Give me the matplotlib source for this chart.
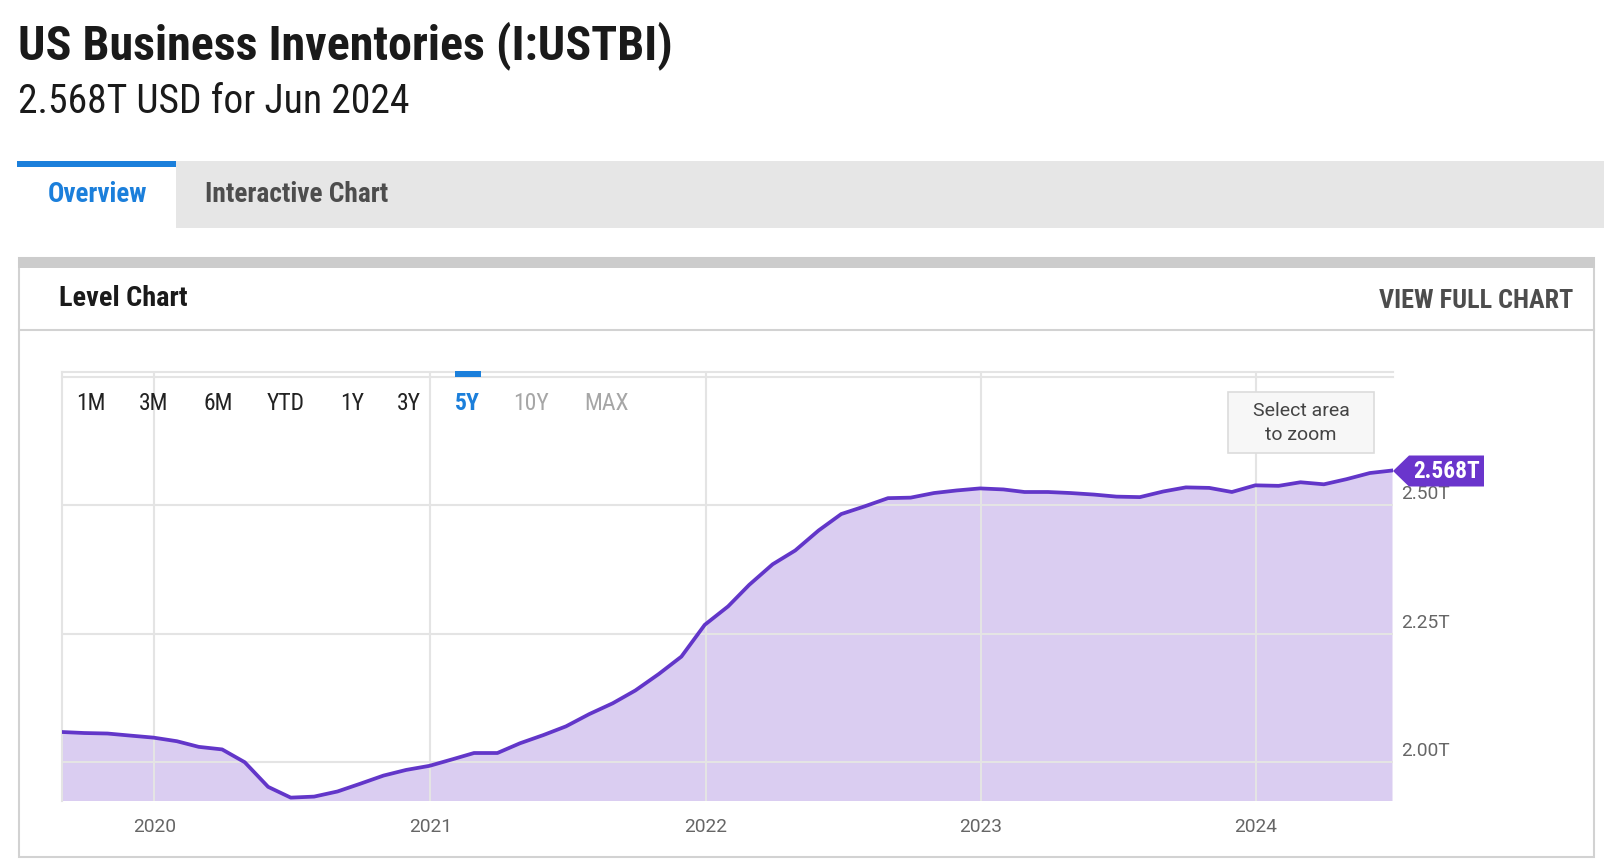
import numpy as np
import pandas as pd
import matplotlib
matplotlib.use('Agg')
import matplotlib.pyplot as plt
import matplotlib.dates as mdates
import matplotlib.transforms as mtrans
from matplotlib.patches import Rectangle, Polygon

# %%
# monthly US business inventories, trillions USD (Aug 2019 .. Jun 2024)
months = pd.date_range('2019-08-31', periods=59, freq='ME')
inventories = [
    2.058, 2.056, 2.055, 2.051, 2.047,                  # 2019
    2.040, 2.029, 2.024, 1.999, 1.951, 1.930,           # 2020
    1.932, 1.942, 1.957, 1.973, 1.984, 1.992,
    2.005, 2.017, 2.017, 2.036, 2.052, 2.069,           # 2021
    2.093, 2.114, 2.139, 2.171, 2.205, 2.267,
    2.303, 2.345, 2.385, 2.412, 2.451, 2.483,           # 2022
    2.498, 2.514, 2.515, 2.524, 2.529, 2.533,
    2.531, 2.526, 2.526, 2.524, 2.521, 2.517,           # 2023
    2.516, 2.527, 2.535, 2.534, 2.526, 2.539,
    2.538, 2.545, 2.541, 2.551, 2.563, 2.568,           # 2024
]
y_ticks = [2.00, 2.25, 2.50]
year_ticks = ['2020-01-01', '2021-01-01', '2022-01-01', '2023-01-01', '2024-01-01']
ranges = ['1M', '3M', '6M', 'YTD', '1Y', '3Y', '5Y', '10Y', 'MAX']
range_x = [91, 154, 218, 286, 352, 409, 467, 531, 607]

W, H = 1604, 868
COND = ['Roboto Condensed', 'Liberation Sans Narrow', 'Roboto', 'DejaVu Sans']
REG = ['Roboto', 'DejaVu Sans']
plt.rcParams['font.family'] = COND

line_c = '#6236c9'
fill_c = '#dacdf1'
grid_c = '#e4e4e4'
blue = '#1b7fdb'

fig = plt.figure(figsize=(W / 100, H / 100), dpi=100)
fig.patch.set_facecolor('white')

# pixel coords, origin top-left
px = mtrans.Affine2D().scale(1 / W, -1 / H).translate(0, 1) + fig.transFigure

def rect(x0, y0, x1, y1, z=-5, **kw):
    fig.patches.append(Rectangle((x0, y0), x1 - x0, y1 - y0, transform=px, zorder=z, **kw))

# %% header
fig.text(18, 59, 'US Business Inventories (I:USTBI)', transform=px, fontsize=34.6,
         fontweight='bold', color='#1a1a1a', va='baseline')
fig.text(18, 113, '2.568T USD for Jun 2024', transform=px, fontsize=28.5,
         color='#1a1a1a', va='baseline')

# tabs
rect(17, 161, W, 228, facecolor='#e6e6e6', edgecolor='none')
rect(17, 161, 176, 228, facecolor='white', edgecolor='none')
rect(17, 161, 176, 167, facecolor=blue, edgecolor='none')
fig.text(97, 195, 'Overview', transform=px, fontsize=19.5, fontweight='bold',
         color=blue, ha='center', va='center')
fig.text(205, 195, 'Interactive Chart', transform=px, fontsize=19.7,
         fontweight='bold', color='#4d4d4d', va='center')

# card
rect(19, 258, 1594, 857, facecolor='white', edgecolor='#d2d2d2', linewidth=1.5, z=-6)
rect(18, 257, 1595, 268, facecolor='#cccccc', edgecolor='none')
fig.lines.append(plt.Line2D([19, 1594], [330, 330], transform=px, color='#d2d2d2', lw=1.5))
fig.text(59, 299, 'Level Chart', transform=px, fontsize=20.3, fontweight='bold',
         color='#1a1a1a', va='center')
fig.text(1573, 301, 'VIEW FULL CHART', transform=px, fontsize=18.8, fontweight='bold',
         color='#4d4d4d', va='center', ha='right')

# %% chart
left, right, top, bottom = 61.5, 1392.5, 372, 800.7
ax = fig.add_axes([left / W, 1 - bottom / H, (right - left) / W, (bottom - top) / H])
ax.fill_between(months, inventories, 0, color=fill_c, lw=0, zorder=1)
ax.plot(months, inventories, color=line_c, lw=2.7, solid_joinstyle='round', zorder=3)

ax.set_xlim(months[0], months[-1])
ax.set_ylim(1.924, 2.760)
ax.set_yticks(y_ticks)
ax.set_xticks(pd.to_datetime(year_ticks))
ax.xaxis.set_major_formatter(mdates.DateFormatter('%Y'))
ax.yaxis.set_major_formatter(lambda v, p: f'{v:.2f}T')
ax.yaxis.tick_right()
ax.grid(True, color=grid_c, lw=1.5, zorder=2)
ax.set_axisbelow(False)
ax.tick_params(length=0, labelsize=13.8, labelcolor='#666666')
ax.tick_params(axis='x', pad=12.5)
ax.tick_params(axis='y', pad=6)
for lab in ax.get_xticklabels() + ax.get_yticklabels():
    lab.set_family(REG)
for lab in ax.get_yticklabels():
    lab.set_transform(lab.get_transform() + mtrans.ScaledTranslation(0, 13 / 100, fig.dpi_scale_trans))
for s in ax.spines.values():
    s.set_color(grid_c)
    s.set_linewidth(1.5)
ax.spines['bottom'].set_visible(False)
ax.spines['right'].set_visible(False)
ax.set_facecolor('none')

# range selector
fig.lines.append(plt.Line2D([left, right], [377, 377], transform=px, color=grid_c, lw=1.5))
rect(455, 371, 481, 377, z=3, facecolor=blue, edgecolor='none')
for lbl, xx in zip(ranges, range_x):
    col, wt = '#222222', 'normal'
    if lbl == '5Y':
        col, wt = blue, 'bold'
    elif lbl in ('10Y', 'MAX'):
        col = '#a6a6a6'
    fig.text(xx, 403, lbl, transform=px, fontsize=17, color=col, fontweight=wt,
             ha='center', va='center')

# zoom hint
rect(1228, 392, 1374, 453, z=3, facecolor='#f7f7f7', edgecolor='#dcdcdc', linewidth=1.2)
fig.text(1301, 411, 'Select area', transform=px, fontsize=14, color='#444444',
         ha='center', va='center', family=REG)
fig.text(1301, 435, 'to zoom', transform=px, fontsize=14, color='#444444',
         ha='center', va='center', family=REG)

# last value flag
fy = 471
fig.patches.append(Polygon([(1393, fy), (1409, fy - 15.5), (1484, fy - 15.5),
                            (1484, fy + 15.5), (1409, fy + 15.5)], closed=True,
                           transform=px, facecolor='#6a35cc', edgecolor='none', zorder=5))
fig.text(1447, fy + 1, f'{inventories[-1]:.3f}T', transform=px, fontsize=16.8,
         fontweight='bold', color='white', ha='center', va='center', zorder=6)

fig.savefig('out.png', dpi=100, facecolor='white')
